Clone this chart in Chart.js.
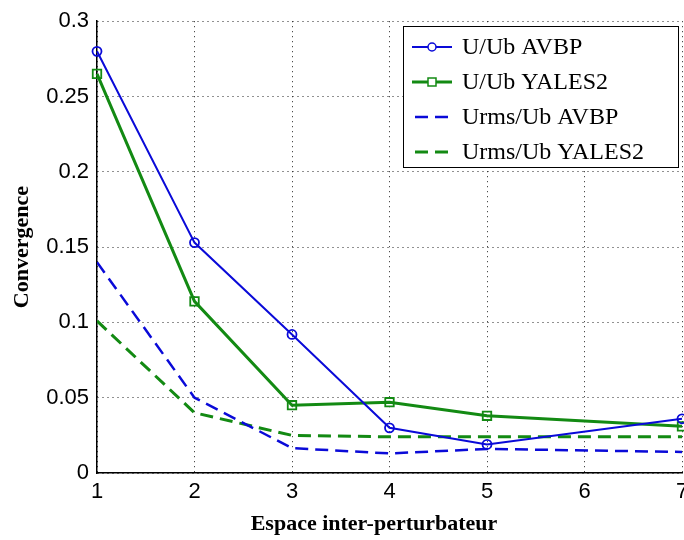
<!DOCTYPE html>
<html>
<head>
<meta charset="utf-8">
<script src="https://cdn.jsdelivr.net/npm/chart.js@4"></script>
<style>
  html, body { margin: 0; padding: 0; background: #fff; overflow: hidden; }
  #wrap { width: 720px; height: 540px; }
</style>
</head>
<body>
<div id="wrap"><canvas id="chart" width="720" height="540"></canvas></div>
<script>
// spacing values (x axis)
const spacing = [1, 2, 3, 4, 5, 7];
const seriesLabels = ["U/Ub AVBP", "U/Ub YALES2", "Urms/Ub AVBP", "Urms/Ub YALES2"];
const uAvbp = [0.280, 0.153, 0.092, 0.030, 0.019, 0.036];
const uYales = [0.265, 0.114, 0.045, 0.047, 0.038, 0.031];
const urmsAvbp = [0.140, 0.050, 0.0165, 0.013, 0.016, 0.014];
const urmsYales = [0.101, 0.040, 0.025, 0.024, 0.024, 0.024];
const yTicks = [0, 0.05, 0.1, 0.15, 0.2, 0.25, 0.3];
const xTitle = "Espace inter-perturbateur";

const BLUE = "#0a0ad8";
const GREEN = "#138a13";

const pts = vals => vals.map((v, i) => ({ x: spacing[i], y: v }));

// MATLAB-like legend box inside the plot, plus x axis title
const boxLegend = {
  id: "boxLegend",
  afterDraw(chart) {
    const ctx = chart.ctx;
    const x0 = 403, y0 = 26, w = 275, h = 141;
    ctx.save();
    ctx.fillStyle = "#fff";
    ctx.fillRect(x0, y0, w, h);
    ctx.strokeStyle = "#000";
    ctx.lineWidth = 1;
    ctx.strokeRect(x0 + 0.5, y0 + 0.5, w, h);
    ctx.font = "24px 'Liberation Serif'";
    ctx.textBaseline = "middle";
    chart.data.datasets.forEach((ds, i) => {
      const y = y0 + 21 + i * 35;
      ctx.strokeStyle = ds.borderColor;
      ctx.lineWidth = ds.borderWidth;
      ctx.setLineDash(ds.borderDash || []);
      ctx.beginPath();
      if (ds.borderDash) { ctx.moveTo(415, y); ctx.lineTo(449, y); }
      else { ctx.moveTo(412, y); ctx.lineTo(452, y); }
      ctx.stroke();
      ctx.setLineDash([]);
      if (ds.pointRadius > 0) {
        ctx.lineWidth = 1.5;
        ctx.beginPath();
        if (ds.pointStyle === "rect") ctx.rect(432 - 4, y - 4, 8, 8);
        else ctx.arc(432, y, 4, 0, Math.PI * 2);
        ctx.fillStyle = "#fff";
        ctx.fill();
        ctx.stroke();
      }
      ctx.fillStyle = "#000";
      ctx.fillText(ds.label, 462, y + 1);
    });
    // x axis title, a bit left of the plot centre as in the original
    ctx.font = "bold 22px 'Liberation Serif'";
    ctx.textAlign = "center";
    ctx.fillText(xTitle, 374, 524);
    ctx.restore();
  }
};

new Chart(document.getElementById("chart"), {
  type: "line",
  data: {
    datasets: [
      { label: seriesLabels[0], data: pts(uAvbp), borderColor: BLUE, borderWidth: 2, clip: false,
        pointStyle: "circle", pointRadius: 4.5, pointBorderWidth: 1.8, pointBackgroundColor: "rgba(0,0,0,0)", pointBorderColor: BLUE },
      { label: seriesLabels[1], data: pts(uYales), borderColor: GREEN, borderWidth: 3, clip: false,
        pointStyle: "rect", pointRadius: 6, pointBorderWidth: 1.8, pointBackgroundColor: "rgba(0,0,0,0)", pointBorderColor: GREEN },
      { label: seriesLabels[2], data: pts(urmsAvbp), borderColor: BLUE, borderWidth: 2.5,
        borderDash: [13, 7], pointRadius: 0 },
      { label: seriesLabels[3], data: pts(urmsYales), borderColor: GREEN, borderWidth: 3,
        borderDash: [13, 7], pointRadius: 0 }
    ]
  },
  options: {
    responsive: false,
    animation: false,
    layout: { padding: { left: 0, right: 38, top: 17, bottom: 0 } },
    plugins: { legend: { display: false }, tooltip: { enabled: false } },
    elements: { line: { tension: 0 } },
    scales: {
      x: {
        type: "linear", min: 1, max: 7,
        afterBuildTicks: s => { s.ticks = [1, 2, 3, 4, 5, 6, 7].map(v => ({ value: v })); },
        afterFit: s => { s.height = 67; },
        ticks: { color: "#000", font: { family: "'Liberation Sans'", size: 22 }, padding: 6 },
        grid: { color: "#222", lineWidth: 1, drawTicks: false },
        border: { display: true, color: "#000", width: 1.5, dash: [1, 4] },
        title: { display: false }
      },
      y: {
        min: 0, max: 0.3,
        afterBuildTicks: s => { s.ticks = yTicks.map(v => ({ value: v })); },
        afterFit: s => { s.width = 97; },
        ticks: { color: "#000", font: { family: "'Liberation Sans'", size: 22 }, padding: 8,
          callback: v => String(parseFloat(v.toFixed(2))) },
        grid: { color: "#222", lineWidth: 1, drawTicks: false },
        border: { display: true, color: "#000", width: 1.5, dash: [1, 4] },
        title: { display: true, text: "Convergence", color: "#000",
          font: { family: "'Liberation Serif'", size: 22, weight: "bold" }, padding: { top: 9, bottom: 2 } }
      }
    }
  },
  plugins: [boxLegend]
});
</script>
</body>
</html>
